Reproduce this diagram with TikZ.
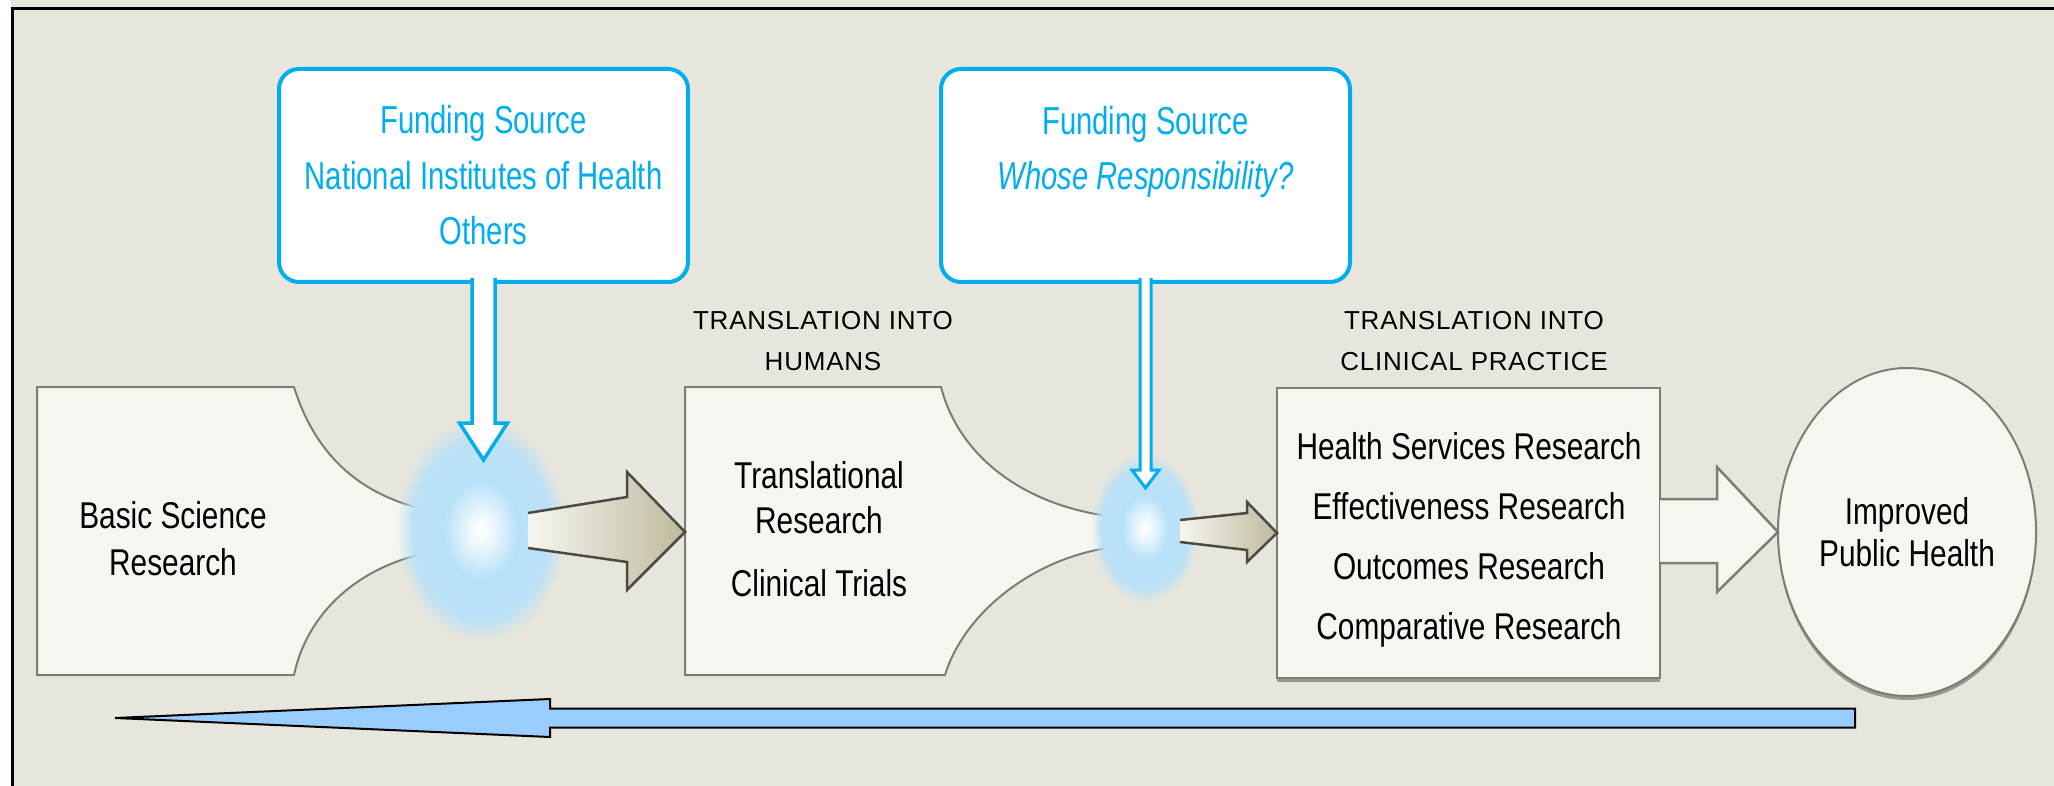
\documentclass[tikz,border=0pt]{standalone}
\usepackage{fontspec}
\setmainfont{Liberation Sans}
\newfontfamily\fundfont[FakeStretch=0.75]{Liberation Sans}
\newfontfamily\bodyfont[FakeStretch=0.8]{Liberation Sans}
\newfontfamily\stagefont[LetterSpace=3]{Liberation Sans}
\usetikzlibrary{shapes.geometric,calc,fadings,shadows}

\definecolor{paper}{RGB}{232,230,220}
\definecolor{cream}{RGB}{247,245,239}
\definecolor{edgegray}{RGB}{125,125,115}
\definecolor{arrowgray}{RGB}{75,75,66}
\definecolor{khaki}{RGB}{190,186,158}
\definecolor{fundblue}{RGB}{0,174,239}
\definecolor{glowblue}{RGB}{184,225,248}
\definecolor{returnblue}{RGB}{153,204,255}
\pgfdeclareradialshading{glowshade}{\pgfpointorigin}{color(0bp)=(white); color(4bp)=(white!70!glowblue); color(11bp)=(glowblue); color(25bp)=(glowblue!90!paper); color(50bp)=(paper)}

\tikzstyle{fund} = [draw=fundblue, line width=4pt, fill=white, rounded corners=20pt, minimum width=409pt, minimum height=213pt, inner sep=0pt, outer sep=0pt, text=fundblue, align=center, font=\fundfont\fontsize{39}{55.5}\selectfont]
\tikzstyle{fundline} = [draw=fundblue, line width=3.5pt, fill=white]
\tikzstyle{funnel} = [draw=edgegray, line width=2pt, fill=cream]
\tikzstyle{glow} = [ellipse, inner sep=0pt, outer sep=0pt, shading=glowshade, path fading=circle with fuzzy edge 20 percent]
\tikzstyle{push} = [draw=arrowgray, line width=2.5pt, left color=cream, right color=khaki]
\tikzstyle{stage} = [align=center, font=\stagefont\fontsize{26}{41}\selectfont]
\tikzstyle{body} = [align=center, font=\bodyfont\fontsize{37.3}{45}\selectfont]
\tikzstyle{practice} = [draw=edgegray, line width=2.5pt, fill=cream, minimum width=383pt, minimum height=290pt, outer sep=0pt, drop shadow={shadow xshift=0pt, shadow yshift=-4pt, fill=arrowgray}]
\tikzstyle{health} = [ellipse, draw=edgegray, line width=2pt, fill=cream, minimum width=258pt, minimum height=328pt, outer sep=0pt, drop shadow={shadow xshift=0pt, shadow yshift=-4pt, fill=arrowgray}]
\tikzstyle{hollow} = [draw=edgegray, line width=2.5pt, fill=cream]
\tikzstyle{returnarrow} = [draw=black, line width=2pt, fill=returnblue]

\begin{document}
\begin{tikzpicture}[x=1pt,y=-1pt]
  \useasboundingbox (0,0) rectangle (2054,786);
  % background and frame
  \fill[white] (0,0) rectangle (2054,786);
  \fill[paper] (11,0) rectangle (2054,786);
  \draw[black, line width=3pt] (12.5,786) -- (12.5,8.5) -- (2054,8.5);

  % funnels
  \draw[funnel] (470,548) .. controls (380,550) and (310,600) .. (294,675) -- (37,675) -- (37,387) -- (294,387) .. controls (320,470) and (380,510) .. (470,516);
  \draw[funnel] (1125,546) .. controls (1040,552) and (965,610) .. (945,675) -- (685,675) -- (685,387) -- (941,387) .. controls (960,460) and (1030,510) .. (1125,518);

  \node[body] (basic) at (173,539) {Basic Science\\[2pt]Research};
  \node[body] (trans) at (819,529) {Translational\\Research\\[18pt]Clinical Trials};
  \coordinate (trans-in) at (685,532);

  % boxes on the right
  \node[practice] (practice) at (1468.5,533) {};
  \node[body] (practicetext) at (1469,540) {Health Services Research\\[15pt]Effectiveness Research\\[15pt]Outcomes Research\\[15pt]Comparative Research};
  \node[health, font=\bodyfont\fontsize{37.3}{42}\selectfont, align=center] (improved) at (1907,532) {Improved\\Public Health};

  % glows
  \node[glow, minimum width=170pt, minimum height=224pt] (glow1) at (481,530) {};
  \node[glow, minimum width=108pt, minimum height=150pt] (glow2) at (1145,528) {};

  % arrows
  \draw[push] ($(glow1)+(47,-17)$) -- ($(trans-in)+(-58,-35)$) -- ($(trans-in)+(-58,-60)$) -- (trans-in) -- ($(trans-in)+(-58,58)$) -- ($(trans-in)+(-58,30)$) -- ($(glow1)+(47,18)$);
  \draw[push] ($(glow2)+(35,-8)$) -- ($(practice.west)+(-30,-20)$) -- ($(practice.west)+(-30,-31)$) -- (practice.west) -- ($(practice.west)+(-30,29)$) -- ($(practice.west)+(-30,17)$) -- ($(glow2)+(35,14)$);
  \draw[hollow] ($(practice.east)+(0,-34)$) -- ($(practice.east)+(57,-34)$) -- ($(practice.east)+(57,-66)$) -- (improved.west) -- ($(practice.east)+(57,59)$) -- ($(practice.east)+(57,30)$) -- ($(practice.east)+(0,30)$);

  % funding sources
  \node[fund] (fund1) at (483.5,175.5) {Funding Source\\National Institutes of Health\\Others};
  \node[fund] (fund2) at (1145.5,175.5) {Funding Source\\ \textit{Whose Responsibility?}\\ \mbox{}};
  \coordinate (in1) at (483.5,460);
  \coordinate (in2) at (1145.5,488);
  \draw[fundline] ($(fund1.south)+(-11.5,-4)$) -- ($(fund1.south)+(-11.5,141)$) -- ($(fund1.south)+(-24,141)$) -- (in1) -- ($(fund1.south)+(24,141)$) -- ($(fund1.south)+(11.5,141)$) -- ($(fund1.south)+(11.5,-4)$);
  \draw[fundline, line width=3pt] ($(fund2.south)+(-5.5,-4)$) -- ($(fund2.south)+(-5.5,188)$) -- ($(fund2.south)+(-13.5,188)$) -- (in2) -- ($(fund2.south)+(13.5,188)$) -- ($(fund2.south)+(5.5,188)$) -- ($(fund2.south)+(5.5,-4)$);

  % stage labels
  \node[stage] (humans) at (823,341) {TRANSLATION INTO\\HUMANS};
  \node[stage] (clinical) at (1474,341) {TRANSLATION INTO\\CLINICAL PRACTICE};

  % way back
  \coordinate (loop-start) at (1855,718);
  \coordinate (loop-end) at (115,718);
  \draw[returnarrow] ($(loop-start)+(0,-9.5)$) -- ($(loop-end)+(435,-9.5)$) -- ($(loop-end)+(435,-19)$) -- (loop-end) -- ($(loop-end)+(435,19)$) -- ($(loop-end)+(435,9.5)$) -- ($(loop-start)+(0,9.5)$) -- cycle;
\end{tikzpicture}
\end{document}
